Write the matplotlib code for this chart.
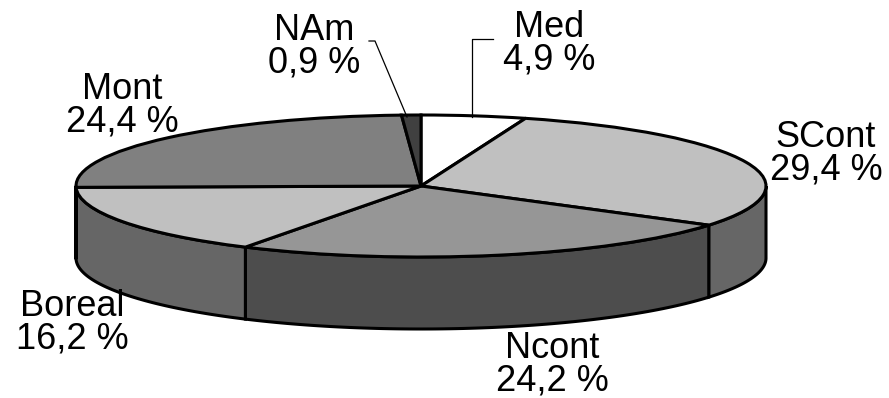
import numpy as np
import matplotlib
matplotlib.use('Agg')
import matplotlib.pyplot as plt

plt.rcParams['font.family'] = ['Liberation Sans', 'DejaVu Sans']

names = ['Med', 'SCont', 'Ncont', 'Boreal', 'Mont', 'NAm']
values = [4.9, 29.4, 24.2, 16.2, 24.4, 0.9]
top_colors = ['#ffffff', '#c0c0c0', '#969696', '#c0c0c0', '#808080', '#404040']
side_colors = ['#808080', '#666666', '#4d4d4d', '#666666', '#606060', '#333333']
labels = ['Med\n4,9 %', 'SCont\n29,4 %', 'Ncont\n24,2 %', 'Boreal\n16,2 %', 'Mont\n24,4 %', 'NAm\n0,9 %']
label_pos = [(549, 44), (826, 154), (552, 365), (72, 323), (122, 106), (314, 47)]

W, H = 889, 398
cx, cy, rx, ry = 421, 186, 345, 71
depth = 72 / ry


def px(x, y):
    return (x - cx) / rx, (cy - y) / ry


fig = plt.figure(figsize=(W / 100, H / 100), dpi=100)
ax = fig.add_axes([0, 0, 1, 1])

# top of the pie, squeezed into an ellipse by the axis limits
wedges, _ = ax.pie(values, colors=top_colors, startangle=90, counterclock=False, radius=1,
                   wedgeprops={'edgecolor': 'black', 'linewidth': 2.2, 'zorder': 3})
ax.set_aspect('auto')
ax.set_xlim(px(0, 0)[0], px(W, 0)[0])
ax.set_ylim(px(0, H)[1], px(0, 0)[1])
ax.axis('off')

# side wall, only the front half (90 to 270 deg clockwise from the top) shows
edges = np.cumsum([0] + values) / 100 * 360
for i in range(len(values)):
    a0 = max(edges[i], 90)
    a1 = min(edges[i + 1], 270)
    if a1 <= a0:
        continue
    t = np.radians(np.linspace(a0, a1, 80))
    x = np.sin(t)
    y = np.cos(t)
    xs = np.concatenate([x, x[::-1]])
    ys = np.concatenate([y, y[::-1] - depth])
    ax.fill(xs, ys, facecolor=side_colors[i], edgecolor='black', linewidth=2.2, zorder=2)

for i, lab in enumerate(labels):
    lx, ly = px(*label_pos[i])
    ax.text(lx, ly, lab, ha='center', va='center', fontsize=26, color='black',
            linespacing=0.9, zorder=5)

# leader lines
for pts in ([(369, 41), (375, 41), (407, 117)], [(493, 39), (472, 39), (472, 117)]):
    xy = [px(*p) for p in pts]
    ax.plot([p[0] for p in xy], [p[1] for p in xy], color='black', lw=0.9, zorder=4)

fig.savefig('out.png', dpi=100)
